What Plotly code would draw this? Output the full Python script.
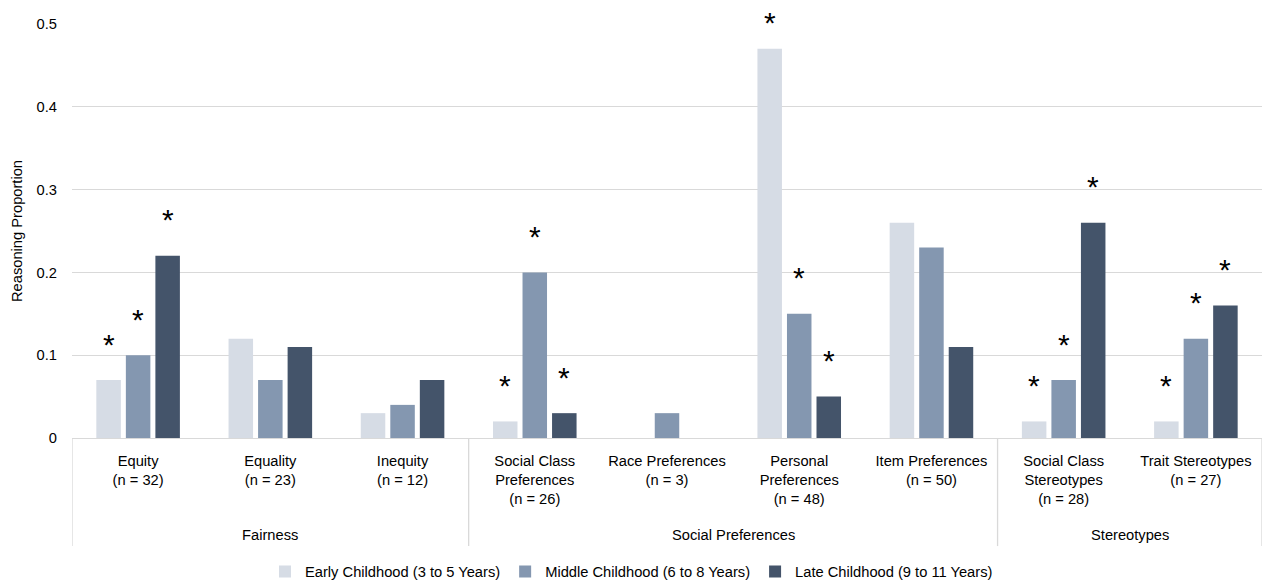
import plotly.graph_objects as go

# Category labels (inner axis level) and the outer grouping
CATEGORY_LABELS = [
    "Equity<br>(n = 32)",
    "Equality<br>(n = 23)",
    "Inequity<br>(n = 12)",
    "Social Class<br>Preferences<br>(n = 26)",
    "Race Preferences<br>(n = 3)",
    "Personal<br>Preferences<br>(n = 48)",
    "Item Preferences<br>(n = 50)",
    "Social Class<br>Stereotypes<br>(n = 28)",
    "Trait Stereotypes<br>(n = 27)",
]
GROUP_NAMES = ["Fairness", "Social Preferences", "Stereotypes"]
GROUP_SIZES = [3, 4, 2]

SERIES_NAMES = [
    "Early Childhood (3 to 5 Years)",
    "Middle Childhood (6 to 8 Years)",
    "Late Childhood (9 to 11 Years)",
]
EARLY = [0.07, 0.12, 0.03, 0.02, 0.00, 0.47, 0.26, 0.02, 0.02]
MIDDLE = [0.10, 0.07, 0.04, 0.20, 0.03, 0.15, 0.23, 0.07, 0.12]
LATE = [0.22, 0.11, 0.07, 0.03, 0.00, 0.05, 0.11, 0.26, 0.16]

# Significance markers (asterisks) per series
SIG_EARLY = [True, False, False, True, False, True, False, True, True]
SIG_MIDDLE = [True, False, False, True, False, True, False, True, True]
SIG_LATE = [True, False, False, True, False, True, False, True, True]

Y_TICKS = [0, 0.1, 0.2, 0.3, 0.4, 0.5]
Y_TICK_TEXT = ["0", "0.1", "0.2", "0.3", "0.4", "0.5"]

COLORS = ["#D6DCE5", "#8497B0", "#44546A"]
GRID = "#D9D9D9"
FONT = "Arial, Liberation Sans, sans-serif"
FS = 14.7

BARGAP = 0.33
BARGROUPGAP = 0.17
STAR_SHIFT = 36      # px above the bar top
STAR_CEIL = 0.458    # keep asterisks inside the top of the chart

x_idx = list(range(len(CATEGORY_LABELS)))
series_values = [EARLY, MIDDLE, LATE]
series_sig = [SIG_EARLY, SIG_MIDDLE, SIG_LATE]

fig = go.Figure()
for name, vals, color in zip(SERIES_NAMES, series_values, COLORS):
    fig.add_trace(go.Bar(
        x=x_idx, y=vals, name=name,
        marker=dict(color=color, line=dict(width=0)),
        hoverinfo="skip",
    ))

# Asterisks above significant bars
slot = (1 - BARGAP) / len(series_values)
annotations = []
for s, (vals, sig) in enumerate(zip(series_values, series_sig)):
    offset = (s - (len(series_values) - 1) / 2) * slot
    for i, (v, flag) in enumerate(zip(vals, sig)):
        if not flag:
            continue
        annotations.append(dict(
            x=i + offset, y=min(v, STAR_CEIL), xref="x", yref="y",
            text="*", showarrow=False, yshift=STAR_SHIFT,
            xanchor="center", yanchor="middle",
            font=dict(family=FONT, size=30, color="#000000"),
        ))

# Outer group labels and divider lines under the axis
shapes = []
start = 0
bounds = [-0.5]
for gname, gsize in zip(GROUP_NAMES, GROUP_SIZES):
    center = start + (gsize - 1) / 2
    annotations.append(dict(
        x=center, y=-0.234, xref="x", yref="paper",
        text=gname, showarrow=False, xanchor="center", yanchor="middle",
        font=dict(family=FONT, size=FS, color="#000000"),
    ))
    start += gsize
    bounds.append(start - 0.5)
for b in bounds:
    shapes.append(dict(
        type="line", xref="x", yref="paper", x0=b, x1=b, y0=0, y1=-0.261,
        line=dict(color=GRID, width=1.3),
    ))

fig.update_layout(
    width=1263, height=583,
    margin=dict(l=72, r=1, t=24, b=145),
    paper_bgcolor="white", plot_bgcolor="white",
    barmode="group", bargap=BARGAP, bargroupgap=BARGROUPGAP,
    font=dict(family=FONT, size=FS, color="#000000"),
    showlegend=True,
    legend=dict(
        orientation="h", xref="container", yref="container",
        x=0.5, xanchor="center", y=11 / 583, yanchor="middle",
        font=dict(family=FONT, size=FS, color="#000000"),
        itemwidth=30, traceorder="normal",
    ),
    annotations=annotations,
    shapes=shapes,
)
fig.update_xaxes(
    range=[-0.5, len(CATEGORY_LABELS) - 0.5],
    tickmode="array", tickvals=x_idx, ticktext=CATEGORY_LABELS,
    showgrid=False, zeroline=False,
    showline=True, linecolor=GRID, linewidth=1.3,
    ticks="", ticklabelstandoff=9,
    tickfont=dict(family=FONT, size=FS, color="#000000"),
    fixedrange=True,
)
fig.update_yaxes(
    range=[0, 0.5],
    tickmode="array", tickvals=Y_TICKS, ticktext=Y_TICK_TEXT,
    showgrid=True, gridcolor=GRID, gridwidth=1.3,
    zeroline=False, showline=False, ticks="",
    ticklabelstandoff=14,
    tickfont=dict(family=FONT, size=FS, color="#000000"),
    title=dict(text="Reasoning Proportion", standoff=10,
               font=dict(family=FONT, size=FS, color="#000000")),
    automargin=False,
    fixedrange=True,
)

fig.write_html("out.html")
